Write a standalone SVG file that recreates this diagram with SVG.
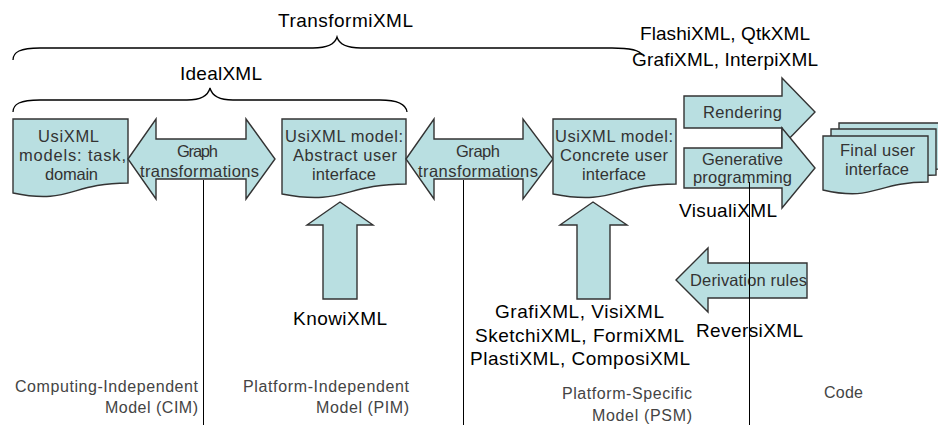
<svg xmlns="http://www.w3.org/2000/svg" width="938" height="425" viewBox="0 0 938 425">
<style>
.shape{fill:#B9DFE1;stroke:#333;stroke-width:1.4;stroke-linejoin:miter}
.nt{font-family:"Liberation Sans",Arial,sans-serif;font-size:16.5px;fill:#333}
.lbl{font-family:"Liberation Sans",Arial,sans-serif;font-size:19px;fill:#000}
.ft{font-family:"Liberation Sans",Arial,sans-serif;font-size:16px;fill:#444}
.brace{fill:none;stroke:#000;stroke-width:1.3}
.vline{stroke:#000;stroke-width:1}
</style>
<rect width="938" height="425" fill="#fff"/>

<g id="braces">
  <path class="brace" d="M13,60 C13,52 20,48 40,48 L313,48 C328,48 335,44 337,37 C339,44 346,48 361,48 L612,48 C630,48 640,50 642,55"/>
  <path class="brace" d="M13,112 C13,104 20,100 40,100 L187,100 C201,100 208,96 210,88 C212,96 219,100 233,100 L380,100 C397,100 406,104 407,112"/>
  <text class="lbl" x="278" y="27" textLength="135" lengthAdjust="spacing">TransformiXML</text>
  <text class="lbl" x="180" y="80" textLength="82" lengthAdjust="spacing">IdealXML</text>
  <text class="lbl" x="640" y="40" textLength="170" lengthAdjust="spacing">FlashiXML, QtkXML</text>
  <text class="lbl" x="632" y="66" textLength="186" lengthAdjust="spacing">GrafiXML, InterpiXML</text>
</g>

<g id="cim-models">
  <path class="shape" d="M13,119 H128 V183 C70,183 70,205 13,193 Z"/>
  <text class="nt" x="38" y="142" textLength="61" lengthAdjust="spacing">UsiXML</text>
  <text class="nt" x="19" y="161" textLength="107" lengthAdjust="spacing">models: task,</text>
  <text class="nt" x="45" y="180" textLength="53" lengthAdjust="spacing">domain</text>
</g>

<g id="graph-transform-1">
  <path class="shape" d="M128,159 L156,119 L156,139 L246,139 L246,119 L275,159 L246,199 L246,179 L156,179 L156,199 Z"/>
  <text class="nt" x="177" y="157" textLength="41" lengthAdjust="spacing">Graph</text>
  <text class="nt" x="140" y="177" textLength="119" lengthAdjust="spacing">transformations</text>
</g>

<g id="aui">
  <path class="shape" d="M282,119 H406 V184 C344,184 344,206 282,194 Z"/>
  <text class="nt" x="285" y="142" textLength="118" lengthAdjust="spacing">UsiXML model:</text>
  <text class="nt" x="293" y="161" textLength="104" lengthAdjust="spacing">Abstract user</text>
  <text class="nt" x="312" y="180" textLength="64" lengthAdjust="spacing">interface</text>
</g>

<g id="graph-transform-2">
  <path class="shape" d="M406,159 L434,119 L434,139 L523,139 L523,119 L553,159 L523,199 L523,179 L434,179 L434,199 Z"/>
  <text class="nt" x="456" y="157" textLength="44" lengthAdjust="spacing">Graph</text>
  <text class="nt" x="418" y="177" textLength="120" lengthAdjust="spacing">transformations</text>
</g>

<g id="cui">
  <path class="shape" d="M553,119 H676 V184 C614,184 614,206 553,194 Z"/>
  <text class="nt" x="555" y="142" textLength="118" lengthAdjust="spacing">UsiXML model:</text>
  <text class="nt" x="560" y="161" textLength="108" lengthAdjust="spacing">Concrete user</text>
  <text class="nt" x="582" y="180" textLength="64" lengthAdjust="spacing">interface</text>
</g>

<g id="rendering">
  <path class="shape" d="M684,96 L782,96 L782,78 L815,112 L782,146 L782,128 L684,128 Z"/>
  <text class="nt" x="703" y="118" textLength="79" lengthAdjust="spacing">Rendering</text>
</g>

<g id="generative">
  <path class="shape" d="M684,148 L782,148 L782,128 L815,168 L782,208 L782,188 L684,188 Z"/>
  <text class="nt" x="702" y="165" textLength="81" lengthAdjust="spacing">Generative</text>
  <text class="nt" x="693" y="183" textLength="99" lengthAdjust="spacing">programming</text>
  <text class="lbl" x="679" y="217" textLength="98" lengthAdjust="spacing">VisualiXML</text>
</g>

<g id="fui">
  <path class="shape" d="M839,123 H944 V169 C891,169 891,189 839,178 Z"/>
  <path class="shape" d="M831,129 H936 V175 C883,175 883,195 831,184 Z"/>
  <path class="shape" d="M823,136 H928 V182 C875,182 875,202 823,190 Z"/>
  <text class="nt" x="840" y="156" textLength="75" lengthAdjust="spacing">Final user</text>
  <text class="nt" x="845" y="175" textLength="64" lengthAdjust="spacing">interface</text>
</g>

<g id="knowixml">
  <path class="shape" d="M340,202 L373,225 L357,225 L357,299 L323,299 L323,225 L307,225 Z"/>
  <text class="lbl" x="293" y="325" textLength="94" lengthAdjust="spacing">KnowiXML</text>
</g>

<g id="cui-tools">
  <path class="shape" d="M593,202 L627,225 L610,225 L610,299 L577,299 L577,225 L560,225 Z"/>
  <text class="lbl" x="495" y="318" textLength="169" lengthAdjust="spacing">GrafiXML, VisiXML</text>
  <text class="lbl" x="475" y="342" textLength="209" lengthAdjust="spacing">SketchiXML, FormiXML</text>
  <text class="lbl" x="470" y="365" textLength="220" lengthAdjust="spacing">PlastiXML, ComposiXML</text>
</g>

<g id="derivation">
  <path class="shape" d="M676,280 L708,248 L708,263 L807,263 L807,298 L708,298 L708,312 Z"/>
  <text class="nt" x="690" y="286" textLength="117" lengthAdjust="spacing">Derivation rules</text>
  <text class="lbl" x="696" y="337" textLength="107" lengthAdjust="spacing">ReversiXML</text>
</g>

<g id="connectors">
  <line class="vline" x1="203.5" y1="180" x2="203.5" y2="425"/>
  <line class="vline" x1="463.5" y1="180" x2="463.5" y2="425"/>
  <line class="vline" x1="749.5" y1="182" x2="749.5" y2="425"/>
</g>

<g id="levels">
  <text class="ft" x="15" y="392" textLength="183" lengthAdjust="spacing">Computing-Independent</text>
  <text class="ft" x="105" y="413" textLength="93" lengthAdjust="spacing">Model (CIM)</text>
  <text class="ft" x="243" y="392" textLength="166" lengthAdjust="spacing">Platform-Independent</text>
  <text class="ft" x="316" y="413" textLength="93" lengthAdjust="spacing">Model (PIM)</text>
  <text class="ft" x="562" y="399" textLength="130" lengthAdjust="spacing">Platform-Specific</text>
  <text class="ft" x="592" y="421" textLength="100" lengthAdjust="spacing">Model (PSM)</text>
  <text class="ft" x="824" y="398" textLength="39" lengthAdjust="spacing">Code</text>
</g>
</svg>
